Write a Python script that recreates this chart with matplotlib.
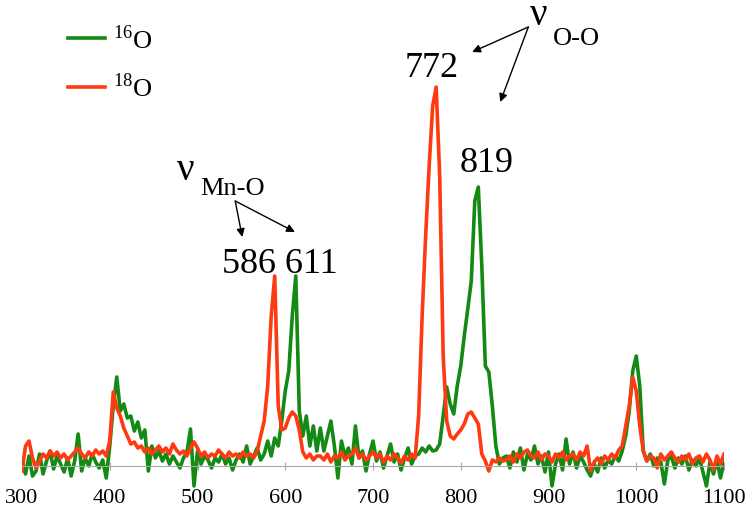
import numpy as np
import matplotlib
matplotlib.use("Agg")
import matplotlib.pyplot as plt

plt.rcParams['font.family'] = 'Liberation Serif'
plt.rcParams['mathtext.fontset'] = 'custom'
plt.rcParams['mathtext.rm'] = 'Liberation Serif'

# Raman shift grid (cm-1) and intensities
wavenumber = np.arange(300, 1101, 4)

o16 = [
    # 300-396
    5, -8, 10, -10, -5, 12, -8, 5, 15, -3, 10, 2, -6, 8, -10, 5, 32, -5, 8, 0, 12, 4, -2, 6, -12,
    # 400-496
    20, 60, 89, 55, 62, 48, 50, 35, 44, 28, 36, -5, 20, 8, 15, 5, 12, 2, 10, 4, -2, 8, 14, 37, -20,
    # 500-572
    15, 2, 10, 6, -2, 8, 4, 12, 2, 8, -4, 6, 12, 4, 20, 2, 10, 18, 6,
    # 576-636
    12, 25, 10, 28, 20, 45, 75, 95, 150, 190, 55, 30, 50, 20, 40, 15,
    # 640-748
    38, 15, 30, 45, 20, -12, 25, 10, 18, 2, 40, 8, 15, -5, 12, 25, 5, 14, -2, 10, 22, 4, 12, -4, 8, 18, 2, 10,
    # 752-848
    12, 18, 14, 20, 15, 16, 22, 50, 79, 62, 52, 80, 100, 130, 157, 185, 265, 279, 200, 100, 94, 60, 20, 2, 8,
    # 852-980
    10, -2, 14, 4, 18, -4, 12, 6, 20, 2, 10, -6, 14, -20, 2, 12, -4, 27, 2, 14, -2, 10, 4, -4, -10, 2, -6, 8, -2, 6, 2, 10, 5,
    # 984-1100
    15, 30, 55, 95, 110, 80, 15, 5, 12, 0, 8, 4, -18, 6, 10, -2, 8, 2, 10, -4, 6, 0, 8, -6, -20, 4, -8, 6, -12, 4,
]

o18 = [
    # 300-396
    -5, 20, 25, 8, -2, 5, 12, 8, 15, 10, 14, 8, 12, 6, 10, 14, 18, 12, 8, 14, 10, 16, 12, 15, 10,
    # 400-496
    25, 74, 58, 50, 38, 30, 22, 24, 18, 20, 14, 18, 12, 16, 20, 14, 18, 12, 22, 16, 12, 15, 10, 18, 24,
    # 500-572
    18, 10, 14, 8, 12, 10, 16, 12, 8, 14, 10, 12, 8, 14, 10, 12, 8, 15, 30,
    # 576-636
    45, 80, 150, 190, 60, 36, 38, 48, 54, 50, 36, 14, 8, 12, 6, 10,
    # 640-748
    10, 6, 12, 4, 10, 8, 14, 6, 10, 12, 18, 8, 12, 6, 10, 14, 8, 12, 4, 10, 6, 12, 8, 3, 10, 6, 12, 8,
    # 752-848
    50, 150, 230, 300, 360, 379, 290, 110, 45, 30, 27, 32, 36, 42, 52, 54, 48, 42, 12, 5, -5, 6, 4, 8, 5,
    # 852-980
    6, 10, 4, 12, 8, 14, 16, 10, 8, 14, 6, 12, 10, 4, 12, 8, 14, 6, 10, 12, 6, 14, 10, 20, -5, 4, 8, 2, 10, 6, 12, 8, 16,
    # 984-1100
    20, 40, 60, 89, 75, 40, 15, 5, 10, 8, -2, 12, 6, 10, 14, 8, 4, 10, 6, 12, 2, 8, 10, 4, 12, 6, -4, 10, 2, 12,
]

green = '#138a13'
red = '#ff3a10'

fig = plt.figure(figsize=(7.5, 5.1), dpi=100)
ax = fig.add_axes([22 / 750, 0, 702 / 750, 1])

ax.plot(wavenumber, o16, color=green, lw=2.6, label=r'$^{16}$O')
ax.plot(wavenumber, o18, color=red, lw=2.6, label=r'$^{18}$O')

ax.set_xlim(300, 1100)
ax.set_ylim(-43, 467)
for s in ['top', 'right', 'left']:
    ax.spines[s].set_visible(False)
ax.spines['bottom'].set_position(('data', 0))
ax.spines['bottom'].set_color('#a8a8a8')
ax.set_yticks([])
ax.set_xticks(range(300, 1101, 100))
ax.tick_params(axis='x', direction='inout', length=6, color='#a8a8a8', labelsize=16, pad=13)

# peak labels
ax.text(594, 194, '586 611', ha='center', va='baseline', fontsize=26)
ax.text(767, 390, '772', ha='center', va='baseline', fontsize=26)
ax.text(830, 295, '819', ha='center', va='baseline', fontsize=26)

ax.text(476, 287, 'ν', ha='left', va='baseline', fontsize=28)
ax.text(503, 272, 'Mn-O', ha='left', va='baseline', fontsize=19)
ax.text(879, 442, 'ν', ha='left', va='baseline', fontsize=28)
ax.text(905, 422, 'O-O', ha='left', va='baseline', fontsize=19)

arrow = dict(arrowstyle='-|>', color='black', lw=1, mutation_scale=12, shrinkA=0, shrinkB=0)
ax.annotate('', xy=(551, 229), xytext=(543, 265), arrowprops=arrow)
ax.annotate('', xy=(611, 234), xytext=(543, 265), arrowprops=arrow)
ax.annotate('', xy=(813, 414), xytext=(877, 439), arrowprops=arrow)
ax.annotate('', xy=(845, 364), xytext=(877, 439), arrowprops=arrow)

ax.legend(loc='upper left', bbox_to_anchor=(68 / 750, 1 - 25 / 510), bbox_transform=fig.transFigure,
          frameon=False, fontsize=19, handlelength=1.4, handletextpad=0.3, labelspacing=0.75,
          borderpad=0, borderaxespad=0)

fig.savefig('out.png', dpi=100)
